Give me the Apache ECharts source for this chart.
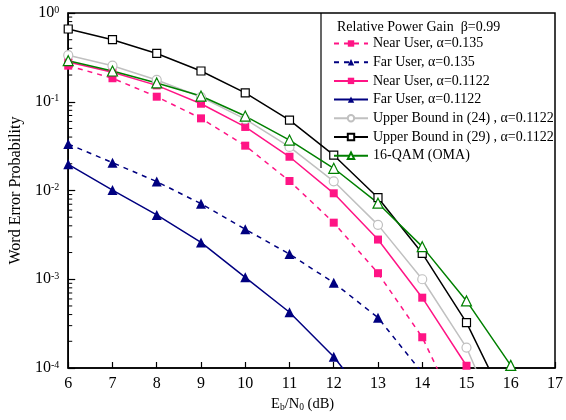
<!DOCTYPE html>
<html>
<head>
<meta charset="utf-8">
<script src="https://cdn.jsdelivr.net/npm/echarts@6/dist/echarts.min.js"></script>
<style>
  html, body { margin: 0; padding: 0; background: #fff; }
  #chart { width: 566px; height: 420px; }
</style>
</head>
<body>
<div id="chart"></div>
<script>
const serif = 'Liberation Serif'

// Eb/N0 (dB)
const ebn0 = [6, 7, 8, 9, 10, 11, 12, 13, 14, 15, 16]

// word error probability (null = not plotted)
const nearA135 = [0.255, 0.184, 0.114, 0.065, 0.032, 0.0128, 0.00434, 0.00117, 0.000222, 2.0e-5, null]
const farA135 = [0.0334, 0.0206, 0.0126, 0.0071, 0.00366, 0.00192, 0.000914, 0.000369, 8.8e-5, null, null]
const nearA1122 = [0.28, 0.215, 0.153, 0.095, 0.052, 0.024, 0.0093, 0.0028, 0.00062, 0.000106, 1.0e-5]
const farA1122 = [0.0197, 0.0101, 0.0053, 0.0026, 0.00105, 0.000425, 0.000134, 3.1e-5, null, null, null]
const ub24 = [0.335, 0.255, 0.176, 0.113, 0.0636, 0.031, 0.0127, 0.0041, 0.001, 0.00017, 1.2e-5]
const ub29 = [0.66, 0.50, 0.35, 0.222, 0.126, 0.062, 0.025, 0.0083, 0.00196, 0.000324, 3.1e-5]
const qam16 = [0.29, 0.222, 0.163, 0.116, 0.069, 0.037, 0.0178, 0.0072, 0.00233, 0.00057, 0.000107]

const legendTitle = 'Relative Power Gain  β=0.99'

const pink = '#ff1485'
const navy = '#000080'

const pairs = arr => ebn0.map((x, i) => [x, arr[i]]).filter(p => p[1] != null)

const mkSeries = (name, arr, color, symbol, size, dashed, hollow) => ({
  name,
  type: 'line',
  data: pairs(arr),
  clip: true,
  symbol,
  symbolSize: size,
  showAllSymbol: true,
  lineStyle: { color, width: 1.5, type: dashed ? [5, 5] : 'solid' },
  itemStyle: { color: hollow ? '#fff' : color, borderColor: color, borderWidth: hollow ? 1.2 : 0 },
  emphasis: { disabled: true },
  animation: false
})

const myChart = echarts.init(document.getElementById('chart'))

const supLabel = v => {
  const e = Math.round(Math.log10(v))
  return '{b|10}{s|' + e + '}'
}

const option = {
  backgroundColor: '#fff',
  animation: false,
  title: {
    text: legendTitle,
    left: 332,
    top: 15,
    textStyle: { fontFamily: serif, fontSize: 14, fontWeight: 'normal', color: '#000' }
  },
  legend: {
    orient: 'vertical',
    left: 321,
    top: 13,
    padding: [23, 6, 6, 12],
    itemWidth: 34,
    itemHeight: 8,
    itemGap: 3.7,
    textStyle: { fontFamily: serif, fontSize: 14, lineHeight: 15, color: '#000' }
  },
  grid: {
    left: 67,
    right: 7,
    top: 13,
    bottom: 52,
    show: true,
    borderColor: '#000',
    borderWidth: 1.5,
    backgroundColor: 'transparent'
  },
  xAxis: {
    type: 'value',
    min: 6,
    max: 17,
    interval: 1,
    name: '{t|E}{sub|b}{t|/N}{sub|0}{t| (dB)}',
    nameLocation: 'middle',
    nameGap: 28,
    nameTextStyle: {
      padding: [0, 18, 0, 0],
      rich: {
        t: { fontFamily: serif, fontSize: 14.5, color: '#000' },
        sub: { fontFamily: serif, fontSize: 9.5, color: '#000', verticalAlign: 'bottom', padding: [6, 0, 0, 0] }
      }
    },
    axisLine: { lineStyle: { color: '#000', width: 1.5 } },
    axisTick: { inside: true, length: 6, lineStyle: { color: '#000', width: 1.2 } },
    axisLabel: { fontFamily: serif, fontSize: 16, color: '#000', margin: 8 },
    splitLine: { show: false }
  },
  yAxis: {
    type: 'log',
    logBase: 10,
    min: 1e-4,
    max: 1,
    name: 'Word Error Probability',
    nameLocation: 'middle',
    nameGap: 38,
    nameTextStyle: { fontFamily: serif, fontSize: 16, color: '#000' },
    axisLine: { lineStyle: { color: '#000', width: 1.5 } },
    axisTick: { inside: true, length: 7, lineStyle: { color: '#000', width: 1.2 } },
    axisLabel: {
      margin: 9,
      formatter: supLabel,
      rich: {
        b: { fontFamily: serif, fontSize: 16, color: '#000' },
        s: { fontFamily: serif, fontSize: 10, color: '#000', verticalAlign: 'top' }
      }
    },
    splitLine: { show: false }
  },
  series: [
    mkSeries('Near User, α=0.135', nearA135, pink, 'rect', 8, true, false),
    mkSeries('Far User, α=0.135', farA135, navy, 'triangle', 10, true, false),
    mkSeries('Near User, α=0.1122', nearA1122, pink, 'rect', 8, false, false),
    mkSeries('Far User, α=0.1122', farA1122, navy, 'triangle', 10, false, false),
    mkSeries('Upper Bound in (24) , α=0.1122', ub24, '#c0c0c0', 'circle', 9, false, true),
    mkSeries('Upper Bound in (29) , α=0.1122', ub29, '#000', 'rect', 8, false, true),
    mkSeries('16-QAM (OMA)', qam16, '#008000', 'triangle', 10, false, true)
  ]
}

myChart.setOption(option)

// minor log ticks on the y axis (2..9 in each decade) + legend frame edge
const extras = []
const x0 = myChart.convertToPixel({ xAxisIndex: 0 }, 6)
for (let d = -4; d < 0; d++) {
  for (let m = 2; m <= 9; m++) {
    const y = myChart.convertToPixel({ yAxisIndex: 0 }, m * Math.pow(10, d))
    extras.push({
      type: 'line',
      silent: true,
      shape: { x1: x0, y1: y, x2: x0 + 4, y2: y },
      style: { stroke: '#000', lineWidth: 1 }
    })
  }
}
extras.push({
  type: 'line',
  silent: true,
  shape: { x1: 321, y1: 13, x2: 321, y2: 168 },
  style: { stroke: '#000', lineWidth: 1.2 }
})
myChart.setOption({ graphic: extras })
</script>
</body>
</html>
